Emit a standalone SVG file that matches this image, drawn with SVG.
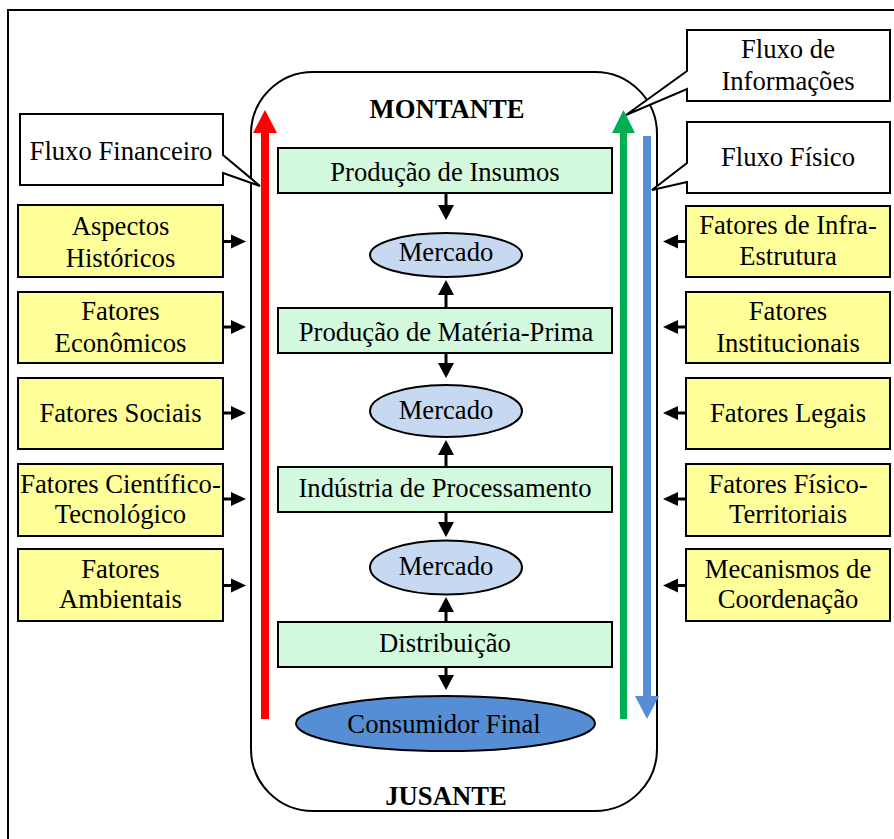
<svg xmlns="http://www.w3.org/2000/svg" width="894" height="839" viewBox="0 0 894 839">
  <style>
    text { font-size: 26.67px; fill: #000; text-anchor: middle; }
    .bold { font-weight: bold; }
    .factor { fill: #FFFF99; stroke: #000; stroke-width: 2; }
    .stage { fill: #D3F9DE; stroke: #000; stroke-width: 2; }
    .market { fill: #C6D9F1; stroke: #000; stroke-width: 2; }
    .consumer { fill: #558ED5; stroke: #000; stroke-width: 2; }
    .callout { fill: #fff; stroke: #000; stroke-width: 2; stroke-linejoin: miter; }
    .link { stroke: #000; stroke-width: 3; fill: none; }
    .head { fill: #000; }
  </style>

  <g font-family="'Liberation Serif', 'DejaVu Serif', serif">
  <!-- outer frame -->
  <rect x="8" y="10" width="1000" height="1000" fill="#fff" stroke="#000" stroke-width="2"/>

  <!-- supply chain container -->
  <rect id="chain" x="251" y="72" width="406" height="739" rx="62" ry="62" fill="#fff" stroke="#000" stroke-width="2"/>
  <text class="bold" x="447" y="118">MONTANTE</text>
  <text class="bold" x="446" y="805">JUSANTE</text>

  <!-- callouts -->
  <g id="fluxo-financeiro">
    <path class="callout" d="M20,114 H223 V155 L260,186 L223,173 V185 H20 Z"/>
    <text x="121" y="160">Fluxo Financeiro</text>
  </g>
  <g id="fluxo-informacoes">
    <path class="callout" d="M687,30 H890 V101 H687 V89 L626,115 L687,71 Z"/>
    <text x="788" y="58">Fluxo de</text>
    <text x="788" y="90">Informações</text>
  </g>
  <g id="fluxo-fisico">
    <path class="callout" d="M687,122 H890 V193 H687 V182 L652,190 L687,163 Z"/>
    <text x="788" y="166">Fluxo Físico</text>
  </g>

  <!-- flow arrows -->
  <g id="flows">
    <polygon fill="#FF0000" points="265,110 277,133 269,133 269,719 261,719 261,133 253,133"/>
    <polygon fill="#00B050" points="623.5,110 635,133 627,133 627,719 620,719 620,133 612,133"/>
    <polygon fill="#558ED5" points="647,719 659,696 651,696 651,136 643,136 643,696 635,696"/>
  </g>

  <!-- left factors -->
  <g id="aspectos-historicos">
    <rect class="factor" x="18" y="205" width="205" height="72"/>
    <text x="120.5" y="235">Aspectos</text>
    <text x="120.5" y="267">Históricos</text>
  </g>
  <g id="fatores-economicos">
    <rect class="factor" x="18" y="292" width="205" height="71"/>
    <text x="120.5" y="320">Fatores</text>
    <text x="120.5" y="352">Econômicos</text>
  </g>
  <g id="fatores-sociais">
    <rect class="factor" x="18" y="378" width="205" height="71"/>
    <text x="120.5" y="422">Fatores Sociais</text>
  </g>
  <g id="fatores-cientifico">
    <rect class="factor" x="18" y="464" width="205" height="72"/>
    <text x="120.5" y="493">Fatores Científico-</text>
    <text x="120.5" y="523">Tecnológico</text>
  </g>
  <g id="fatores-ambientais">
    <rect class="factor" x="18" y="549" width="205" height="72"/>
    <text x="120.5" y="578">Fatores</text>
    <text x="120.5" y="608">Ambientais</text>
  </g>

  <!-- right factors -->
  <g id="fatores-infraestrutura">
    <rect class="factor" x="686" y="206" width="204" height="71"/>
    <text x="788" y="234">Fatores de Infra-</text>
    <text x="788" y="265">Estrutura</text>
  </g>
  <g id="fatores-institucionais">
    <rect class="factor" x="686" y="292" width="204" height="71"/>
    <text x="788" y="320">Fatores</text>
    <text x="788" y="352">Institucionais</text>
  </g>
  <g id="fatores-legais">
    <rect class="factor" x="686" y="378" width="204" height="71"/>
    <text x="788" y="422">Fatores Legais</text>
  </g>
  <g id="fatores-fisico">
    <rect class="factor" x="686" y="464" width="204" height="72"/>
    <text x="788" y="493">Fatores Físico-</text>
    <text x="788" y="523">Territoriais</text>
  </g>
  <g id="mecanismos-coordenacao">
    <rect class="factor" x="686" y="549" width="204" height="72"/>
    <text x="788" y="578">Mecanismos de</text>
    <text x="788" y="608">Coordenação</text>
  </g>

  <!-- chain stages -->
  <g id="producao-insumos">
    <rect class="stage" x="278" y="148" width="334" height="45"/>
    <text x="445" y="181">Produção de Insumos</text>
  </g>
  <g id="mercado-1">
    <ellipse class="market" cx="446" cy="255" rx="76" ry="22"/>
    <text x="446" y="261">Mercado</text>
  </g>
  <g id="producao-materia-prima">
    <rect class="stage" x="278" y="308" width="334" height="45"/>
    <text x="446" y="341">Produção de Matéria-Prima</text>
  </g>
  <g id="mercado-2">
    <ellipse class="market" cx="446" cy="411" rx="76" ry="26"/>
    <text x="446" y="419">Mercado</text>
  </g>
  <g id="industria-processamento">
    <rect class="stage" x="278" y="467" width="334" height="45"/>
    <text x="445" y="497">Indústria de Processamento</text>
  </g>
  <g id="mercado-3">
    <ellipse class="market" cx="446" cy="567.5" rx="76" ry="27"/>
    <text x="446" y="575">Mercado</text>
  </g>
  <g id="distribuicao">
    <rect class="stage" x="278" y="622" width="334" height="45"/>
    <text x="445" y="652">Distribuição</text>
  </g>
  <g id="consumidor-final">
    <ellipse class="consumer" cx="445.5" cy="723.5" rx="149.5" ry="27.5"/>
    <text x="444" y="733">Consumidor Final</text>
  </g>

  <!-- connectors -->
  <g id="connectors">
    <!-- factors into the chain -->
    <path class="link" d="M223,241.5 H232"/><polygon class="head" points="246,241.5 231,234.5 231,248.5"/>
    <path class="link" d="M223,327 H232"/><polygon class="head" points="246,327 231,320 231,334"/>
    <path class="link" d="M223,413 H232"/><polygon class="head" points="246,413 231,406 231,420"/>
    <path class="link" d="M223,499 H232"/><polygon class="head" points="246,499 231,492 231,506"/>
    <path class="link" d="M223,585.5 H232"/><polygon class="head" points="246,585.5 231,578.5 231,592.5"/>

    <path class="link" d="M686,241.5 H677"/><polygon class="head" points="663,241.5 678,234.5 678,248.5"/>
    <path class="link" d="M686,327 H677"/><polygon class="head" points="663,327 678,320 678,334"/>
    <path class="link" d="M686,413 H677"/><polygon class="head" points="663,413 678,406 678,420"/>
    <path class="link" d="M686,499 H677"/><polygon class="head" points="663,499 678,492 678,506"/>
    <path class="link" d="M686,585.5 H677"/><polygon class="head" points="663,585.5 678,578.5 678,592.5"/>

    <!-- stages to markets -->
    <path class="link" d="M446,193 V206"/><polygon class="head" points="446,220 438,205 454,205"/>
    <path class="link" d="M446,308 V294"/><polygon class="head" points="446,280 438,295 454,295"/>
    <path class="link" d="M446,353 V364"/><polygon class="head" points="446,378 438,363 454,363"/>
    <path class="link" d="M446,467 V454"/><polygon class="head" points="446,440 438,455 454,455"/>
    <path class="link" d="M446,512 V523"/><polygon class="head" points="446,537 438,522 454,522"/>
    <path class="link" d="M446,622 V611"/><polygon class="head" points="446,597 438,612 454,612"/>
    <path class="link" d="M446,667 V676"/><polygon class="head" points="446,690 438,675 454,675"/>
  </g>
  </g>
</svg>
